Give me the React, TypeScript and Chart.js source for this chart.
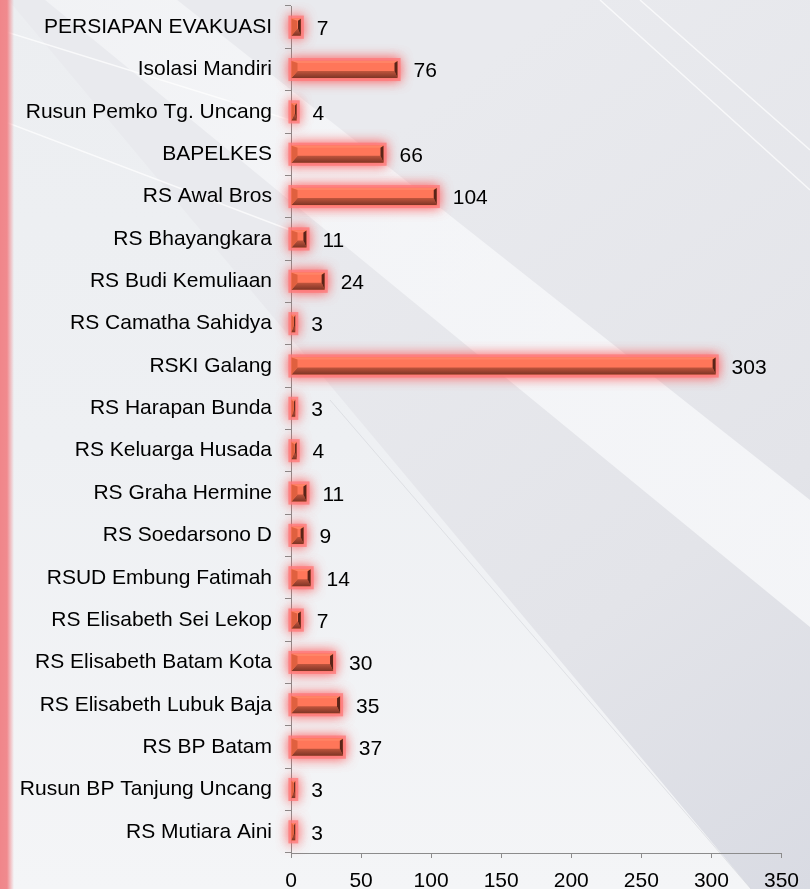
import { useEffect, useRef } from "react";
import { Chart, registerables } from "chart.js";

Chart.register(...registerables);

const categories = [
  "PERSIAPAN EVAKUASI",
  "Isolasi Mandiri",
  "Rusun Pemko Tg. Uncang",
  "BAPELKES",
  "RS Awal Bros",
  "RS Bhayangkara",
  "RS Budi Kemuliaan",
  "RS Camatha Sahidya",
  "RSKI Galang",
  "RS Harapan Bunda",
  "RS Keluarga Husada",
  "RS Graha Hermine",
  "RS Soedarsono D",
  "RSUD Embung Fatimah",
  "RS Elisabeth Sei Lekop",
  "RS Elisabeth Batam Kota",
  "RS Elisabeth Lubuk Baja",
  "RS BP Batam",
  "Rusun BP Tanjung Uncang",
  "RS Mutiara Aini",
];
const values = [7, 76, 4, 66, 104, 11, 24, 3, 303, 3, 4, 11, 9, 14, 7, 30, 35, 37, 3, 3];
const xMin = 0;
const xMax = 350;
const xStep = 50;

const FONT = "'Liberation Sans', Arial, sans-serif";

function poly(ctx: CanvasRenderingContext2D, pts: number[][], fill: any) {
  ctx.beginPath();
  ctx.moveTo(pts[0][0], pts[0][1]);
  for (let i = 1; i < pts.length; i++) ctx.lineTo(pts[i][0], pts[i][1]);
  ctx.closePath();
  ctx.fillStyle = fill;
  ctx.fill();
}

const backgroundPlugin = {
  id: "bg",
  beforeDraw(chart: any) {
    const ctx: CanvasRenderingContext2D = chart.ctx;
    const W = chart.width;
    const H = chart.height;
    ctx.save();
    let g = ctx.createLinearGradient(300, 200, W, H);
    g.addColorStop(0, "#e9eaee");
    g.addColorStop(0.6, "#e3e4e9");
    g.addColorStop(1, "#d9dbe3");
    ctx.fillStyle = g;
    ctx.fillRect(0, 0, W, H);
    g = ctx.createLinearGradient(0, 0, 0, H);
    g.addColorStop(0, "#eceef1");
    g.addColorStop(0.5, "#eef0f3");
    g.addColorStop(1, "#f4f5f7");
    poly(ctx, [[0, -10], [751, H], [0, H]], g);
    g = ctx.createLinearGradient(0, 0, W, 0);
    g.addColorStop(0, "rgba(250,251,252,0.45)");
    g.addColorStop(0.5, "rgba(248,249,251,0.75)");
    g.addColorStop(1, "rgba(247,248,250,0.85)");
    poly(ctx, [[0, -140], [W, 500], [W, 627], [0, -37]], g);
    ctx.strokeStyle = "rgba(255,255,255,0.7)";
    ctx.lineWidth = 1.5;
    ctx.beginPath();
    ctx.moveTo(0, 30);
    ctx.lineTo(290, 120);
    ctx.moveTo(0, 120);
    ctx.lineTo(290, 230);
    ctx.moveTo(600, 0);
    ctx.lineTo(W, 190);
    ctx.moveTo(640, 0);
    ctx.lineTo(W, 150);
    ctx.stroke();
    ctx.strokeStyle = "rgba(205,207,214,0.5)";
    ctx.lineWidth = 1;
    ctx.beginPath();
    ctx.moveTo(330, 400);
    ctx.lineTo(751, H);
    ctx.stroke();
    g = ctx.createLinearGradient(0, 0, 14, 0);
    g.addColorStop(0, "#f0868a");
    g.addColorStop(0.5, "#f08a8e");
    g.addColorStop(1, "rgba(240,140,145,0)");
    ctx.fillStyle = g;
    ctx.fillRect(0, 0, 14, H);
    ctx.restore();
  },
};

const glowPlugin = {
  id: "glow",
  beforeDatasetDraw(chart: any) {
    const ctx: CanvasRenderingContext2D = chart.ctx;
    const meta = chart.getDatasetMeta(0);
    ctx.save();
    meta.data.forEach((el: any) => {
      const p = el.getProps(["x", "y", "base", "height"], true);
      const left = Math.min(p.base, p.x);
      const right = Math.max(p.base, p.x);
      const top = p.y - p.height / 2;
      ctx.shadowColor = "rgba(255,80,80,1)";
      ctx.shadowBlur = 12;
      ctx.fillStyle = "rgba(255,125,125,0.55)";
      const e = 3;
      ctx.fillRect(left - e, top - e, right - left + 2 * e, p.height + 2 * e);
      ctx.fillRect(left - e, top - e, right - left + 2 * e, p.height + 2 * e);
    });
    ctx.restore();
  },
  afterDatasetDraw(chart: any) {
    const ctx: CanvasRenderingContext2D = chart.ctx;
    const meta = chart.getDatasetMeta(0);
    ctx.save();
    meta.data.forEach((el: any) => {
      const p = el.getProps(["x", "y", "base", "height"], true);
      const top = p.y - p.height / 2;
      const bot = p.y + p.height / 2;
      const left = Math.min(p.base, p.x);
      const right = Math.max(p.base, p.x);
      const w = right - left;
      let bl = 6;
      let br = 3;
      const f = Math.min(1, w / (bl + br + 1));
      bl *= f;
      br *= f;
      const bt = 2;
      const bb = 7;
      poly(ctx, [[left, top], [right, top], [right - br, top + bt], [left + bl, top + bt]], "#ff8466");
      const gb = ctx.createLinearGradient(0, bot - bb, 0, bot);
      gb.addColorStop(0, "#c0553d");
      gb.addColorStop(1, "#7e3425");
      poly(ctx, [[left, bot], [right, bot], [right - br, bot - bb], [left + bl, bot - bb]], gb);
      poly(ctx, [[left, top], [left + bl, top + bt], [left + bl, bot - bb], [left, bot]], "#e0603f");
      poly(ctx, [[right, top], [right, bot], [right - br, bot - bb], [right - br, top + bt]], "#5a2418");
    });
    ctx.restore();
  },
};

const valueLabelPlugin = {
  id: "valueLabels",
  afterDatasetsDraw(chart: any) {
    const ctx: CanvasRenderingContext2D = chart.ctx;
    const meta = chart.getDatasetMeta(0);
    ctx.save();
    ctx.font = `21px ${FONT}`;
    ctx.fillStyle = "#000";
    ctx.textAlign = "left";
    ctx.textBaseline = "middle";
    meta.data.forEach((el: any, i: number) => {
      const p = el.getProps(["x", "y"], true);
      ctx.fillText(String(values[i]), p.x + 16, p.y + 2);
    });
    ctx.restore();
  },
};

export default function App() {
  const ref = useRef<HTMLCanvasElement | null>(null);
  useEffect(() => {
    document.body.style.margin = "0";
    const canvas = ref.current!;
    const chart = new Chart(canvas, {
      type: "bar",
      data: {
        labels: categories,
        datasets: [
          {
            data: values,
            backgroundColor: "#ff7659",
            borderWidth: 0,
            barThickness: 17,
          },
        ],
      },
      options: {
        indexAxis: "y",
        responsive: false,
        animation: false,
        devicePixelRatio: 1,
        layout: { padding: { top: 6, right: 23, left: 0, bottom: 0 } },
        plugins: {
          legend: { display: false },
          tooltip: { enabled: false },
          title: { display: false },
        },
        scales: {
          x: {
            min: xMin,
            max: xMax,
            ticks: {
              stepSize: xStep,
              font: { family: FONT, size: 21 },
              color: "#000",
              padding: 11,
              maxRotation: 0,
            },
            grid: { drawOnChartArea: false, drawTicks: true, tickLength: 5, color: "#8c8c8c" },
            border: { display: true, color: "#8c8c8c" },
            afterFit: (s: any) => {
              s.height = 36;
            },
          },
          y: {
            ticks: {
              font: { family: FONT, size: 21 },
              color: "#000",
              padding: 13,
              autoSkip: false,
            },
            grid: { drawOnChartArea: false, drawTicks: true, tickLength: 6, color: "#8c8c8c", offset: true },
            border: { display: true, color: "#8c8c8c" },
            afterFit: (s: any) => {
              s.width = 291;
              s.paddingTop = 0;
              s.paddingBottom = 0;
            },
          },
        },
      },
      plugins: [backgroundPlugin, glowPlugin, valueLabelPlugin],
    });
    return () => chart.destroy();
  }, []);
  return (
    <canvas
      ref={ref}
      width={810}
      height={889}
      style={{ display: "block", width: 810, height: 889 }}
    />
  );
}
